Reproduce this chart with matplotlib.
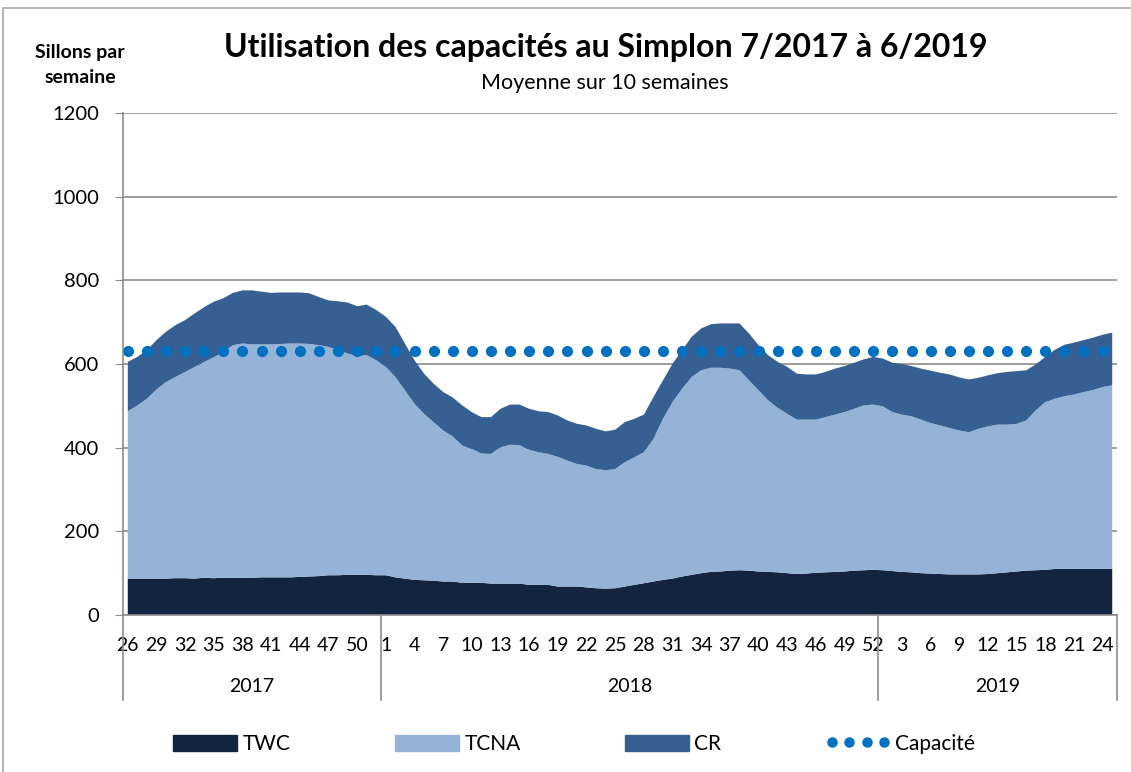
import matplotlib
matplotlib.use('Agg')
import matplotlib.pyplot as plt
from matplotlib.lines import Line2D
from matplotlib.patches import Patch, Rectangle
from matplotlib.legend_handler import HandlerLine2D
import matplotlib.transforms as mtransforms
import numpy as np

plt.rcParams['font.family'] = ['Lato', 'DejaVu Sans']

# Weeks 26/2017 .. 25/2019
years = ['2017', '2018', '2019']
weeks_2017 = list(range(26, 53))
weeks_2018 = list(range(1, 53))
weeks_2019 = list(range(1, 26))
weeks = weeks_2017 + weeks_2018 + weeks_2019

twc = [87, 87, 87, 87, 87, 88, 88, 87, 89, 88, 89, 89, 89, 89, 90, 90, 90,
       90, 91, 92, 93, 95, 95, 96, 96, 96, 95, 95,
       90, 87, 84, 83, 82, 80, 80, 77, 77, 77, 75, 75, 75, 75, 72, 72, 72,
       68, 68, 68, 66, 64, 63, 64, 68, 72, 76, 80, 84, 87, 92, 96, 100, 103,
       104, 106, 107, 106, 104, 103, 102, 100, 98, 99, 101, 102, 103, 104,
       106, 107, 108, 107, 105, 103, 102, 100, 99, 98, 97, 97, 97, 97, 98,
       100, 102, 104, 106, 107, 108, 110, 110, 110, 110, 110, 110, 110]
tcna = [400, 414, 430, 452, 470, 481, 493, 506, 516, 528, 540, 556, 560, 558,
        557, 557, 558, 559, 558, 556, 552, 546, 538, 529, 523, 525, 514, 498,
        479, 450, 421, 398, 379, 361, 347, 328, 320, 309, 310, 326, 332, 331,
        323, 317, 313, 310, 301, 293, 291, 285, 283, 285, 297, 305, 313, 341,
        385, 422, 449, 473, 485, 488, 487, 483, 478, 455, 433, 410, 393, 381,
        369, 368, 366, 371, 376, 381, 387, 394, 395, 392, 380, 376, 373, 367,
        360, 355, 350, 344, 340, 348, 353, 355, 353, 353, 359, 382, 401, 407,
        413, 417, 423, 428, 435, 439]
cr = [118, 116, 116, 118, 120, 124, 124, 128, 131, 133, 128, 125, 127, 129,
      126, 123, 123, 122, 122, 121, 115, 111, 117, 122, 119, 121, 120, 120,
      120, 112, 104, 96, 92, 92, 93, 96, 88, 87, 88, 92, 96, 97, 98, 98, 100,
      99, 96, 96, 96, 96, 93, 94, 96, 92, 90, 100, 92, 92, 92, 96, 100, 104,
      106, 108, 112, 112, 108, 108, 110, 112, 110, 108, 108, 108, 110, 110,
      110, 110, 114, 114, 118, 121, 120, 122, 125, 126, 128, 127, 126, 122,
      122, 123, 126, 126, 120, 110, 108, 117, 123, 124, 124, 125, 125, 126]
capacite = 632

c_twc = '#12243F'
c_tcna = '#95B3D7'
c_cr = '#366092'
c_cap = '#0070C0'
grey = '#8C8C8C'

fig = plt.figure(figsize=(11.31, 7.72), dpi=100)
ax = fig.add_axes([123 / 1131, 1 - 615 / 772, (1117 - 123) / 1131, (615 - 113) / 772])

x = np.arange(len(weeks))
ax.stackplot(x, twc, tcna, cr, colors=[c_twc, c_tcna, c_cr], linewidth=0)
ax.plot(x, [capacite] * len(x), linestyle='none', marker='o', markersize=7,
        color=c_cap, markevery=2, clip_on=False)

ax.set_xlim(-0.5, len(x) - 0.5)
ax.set_ylim(0, 1200)
ax.set_yticks(range(0, 1201, 200))
ax.set_axisbelow(True)
ax.yaxis.grid(True, color=grey, linewidth=1.2)
ax.tick_params(axis='y', length=6, color=grey, labelsize=14.5, pad=11)

for s in ['top', 'right']:
    ax.spines[s].set_visible(False)
for s in ['left', 'bottom']:
    ax.spines[s].set_color(grey)
    ax.spines[s].set_linewidth(1.2)

# week labels every 3 weeks
pos = x[::3]
ax.set_xticks(pos)
ax.set_xticklabels([str(weeks[i]) for i in pos], fontsize=14)
ax.tick_params(axis='x', length=0, pad=16)

# year separators and labels below the axis
trans = mtransforms.blended_transform_factory(ax.transData, ax.transAxes)
n17, n18 = len(weeks_2017), len(weeks_2018)
bounds = [-0.5, n17 - 0.5, n17 + n18 - 0.5, len(x) - 0.5]
for b in bounds:
    ax.plot([b, b], [0, -0.17], transform=trans, color=grey, linewidth=1.2,
            clip_on=False)
for i, yr in enumerate(years):
    ax.text((bounds[i] + bounds[i + 1]) / 2, -0.142, yr, transform=trans,
            ha='center', va='center', fontsize=14)

# titles
fig.text(606 / 1131, 1 - 48 / 772, 'Utilisation des capacités au Simplon 7/2017 à 6/2019',
         ha='center', va='center', fontsize=23, fontweight='bold')
fig.text(605 / 1131, 1 - 83 / 772, 'Moyenne sur 10 semaines',
         ha='center', va='center', fontsize=15.5)
fig.text(80 / 1131, 1 - 65 / 772, 'Sillons par\nsemaine', ha='center', va='center',
         fontsize=14, fontweight='bold', linespacing=1.6)

# outer frame
fig.patches.append(Rectangle((3 / 1131, -0.05), 1.2, 1 - 8 / 772 + 0.05,
                             transform=fig.transFigure, fill=False,
                             edgecolor='#A6A6A6', linewidth=1.2))

handles = [Patch(color=c_twc), Patch(color=c_tcna), Patch(color=c_cr),
           Line2D([], [], linestyle='none', marker='o', markersize=6.5, color=c_cap)]
labels = ['TWC', 'TCNA', 'CR', 'Capacité']
fig.legend(handles, labels, loc='center', bbox_to_anchor=(574 / 1131, 1 - 744 / 772),
           ncol=4, frameon=False, fontsize=15, handlelength=3.1, handleheight=0.8,
           columnspacing=5.0, handletextpad=0.25,
           handler_map={handles[3]: HandlerLine2D(numpoints=4)})

fig.savefig('out.png', dpi=100)
